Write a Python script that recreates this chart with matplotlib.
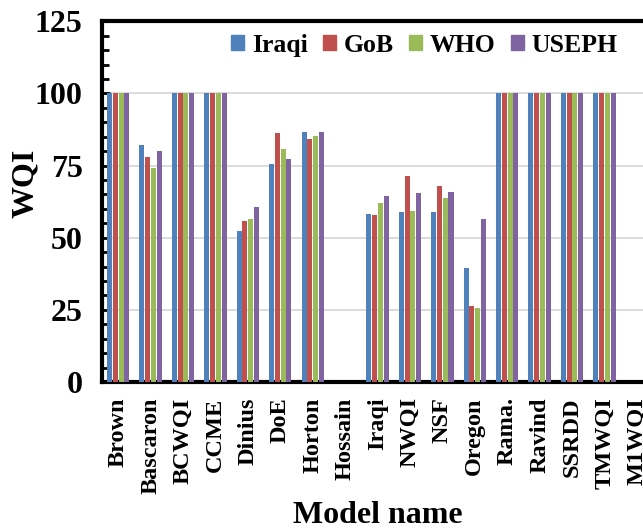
import numpy as np
import matplotlib
matplotlib.use('Agg')
import matplotlib.pyplot as plt
from matplotlib.ticker import MultipleLocator
from matplotlib.patches import Patch

plt.rcParams['font.family'] = 'Liberation Serif'
plt.rcParams['font.weight'] = 'bold'

models = ['Brown', 'Bascaron', 'BCWQI', 'CCME', 'Dinius', 'DoE', 'Horton', 'Hossain',
          'Iraqi', 'NWQI', 'NSF', 'Oregon', 'Rama.', 'Ravind', 'SSRDD', 'TMWQI', 'M1WQI']

# WQI per model under each standard (Hossain / M1WQI have no values)
iraqi = [100, 82.0, 100, 100, 52.4, 75.5, 86.5, np.nan, 58.3, 58.8, 58.9, 39.6, 100, 100, 100, 100, np.nan]
gob   = [100, 78.0, 100, 100, 55.7, 86.3, 84.2, np.nan, 58.0, 71.3, 67.9, 26.5, 100, 100, 100, 100, np.nan]
who   = [100, 74.0, 100, 100, 56.6, 80.7, 85.4, np.nan, 61.9, 59.1, 63.9, 25.7, 100, 100, 100, 100, np.nan]
useph = [100, 79.9, 100, 100, 60.5, 77.4, 86.5, np.nan, 64.3, 65.5, 66.0, 56.4, 100, 100, 100, 100, np.nan]

series = [('Iraqi', iraqi, '#4F81BD'), ('GoB', gob, '#C0504D'),
          ('WHO', who, '#9BBB59'), ('USEPH', useph, '#8064A2')]

fig = plt.figure(figsize=(6.43, 5.29), dpi=100)
ax = fig.add_axes([0.1586, 0.2779, 0.857, 0.682])

x = np.arange(len(models))
slot = 0.178
for i, (name, vals, col) in enumerate(series):
    ax.bar(x + (i - 1.5) * slot, vals, width=0.155, color=col, zorder=3)

ax.set_xlim(-0.5, len(models) - 0.5)
ax.set_ylim(0, 125)
ax.yaxis.set_major_locator(MultipleLocator(25))
ax.yaxis.set_minor_locator(MultipleLocator(5))
ax.grid(axis='y', color='#D9D9D9', linewidth=1.3, zorder=0)

ax.set_xticks(x)
ax.set_xticklabels(models, rotation=90, fontsize=17.5, fontweight='bold')
ax.tick_params(axis='x', length=0, pad=11)
ax.tick_params(axis='y', which='major', direction='in', length=6, width=2, labelsize=23, pad=14)
ax.tick_params(axis='y', which='minor', direction='in', length=5, width=2)

for s in ax.spines.values():
    s.set_linewidth(3)

ax.set_xlabel('Model name', fontsize=23, fontweight='bold')
ax.xaxis.set_label_coords(0.5, -0.33)
ax.set_ylabel('WQI', fontsize=23, fontweight='bold')
ax.yaxis.set_label_coords(-0.113, 0.55)

handles = [Patch(color=c, label=n) for n, _, c in series]
ax.legend(handles=handles, loc='center', bbox_to_anchor=(0.585, 0.933), ncol=4,
          frameon=False, prop={'size': 18.5, 'weight': 'bold'},
          handlelength=0.5, handleheight=0.5, handletextpad=0.3, columnspacing=0.6)

fig.savefig('out.png', dpi=100)
